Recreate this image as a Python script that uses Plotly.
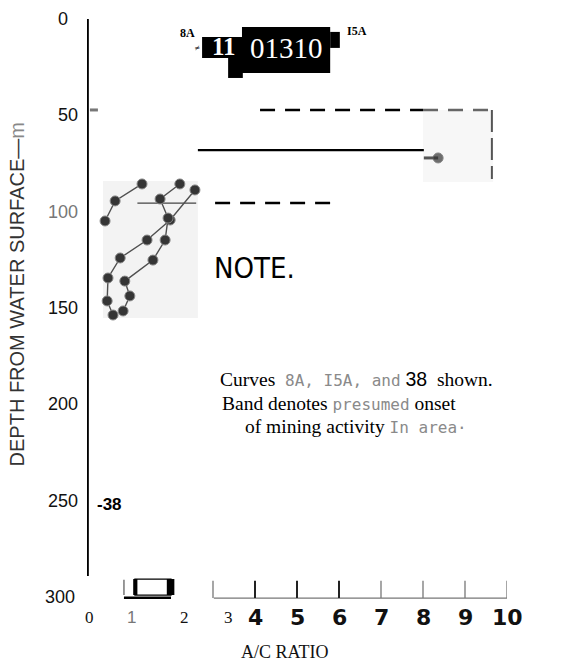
import plotly.graph_objects as go

# ---- depth profile data (A/C ratio vs depth in metres) ----
curve_8a_x = [1.31, 0.67, 0.43]
curve_8a_y = [85.6, 94.4, 104.8]
curve_15a_x = [2.57, 1.98, 1.43, 0.79, 0.50, 0.48, 0.62]
curve_15a_y = [88.7, 104.3, 114.7, 124.0, 134.4, 146.3, 153.6]
curve_38_x = [2.21, 1.74, 1.93, 1.86, 1.57, 0.90, 1.02, 0.86]
curve_38_y = [85.6, 93.4, 103.3, 114.7, 125.1, 136.0, 143.7, 151.5]

# onset band boundaries (depth) and their extent in A/C ratio
band_top_depth = 47.2
band_mid_depth = 68.0
band_low_depth = 95.5
band_top_x = [4.12, 8.0]
band_top_x_faint = [8.0, 9.64]
band_mid_x = [2.64, 8.02]
band_low_x = [3.05, 5.83]
band_low_inner_x = [1.2, 2.6]
band_side_y = [47.2, 83.0]
band_side_x = 9.64

# the isolated reading at the right of the band
point_x = [8.02, 8.36]
point_y = [72.1, 72.1]

# axis labels
y_tick_vals = [0, 50, 100, 150, 200, 250, 300]
y_tick_text = ["0", "50", "100", "150", "200", "250", "300"]
x_small_vals = [0.05, 1.07, 2.31, 3.38]
x_small_text = ["0", "1", "2", "3"]
x_big_vals = [4, 5, 6, 7, 8, 9, 10]
x_big_text = ["4", "5", "6", "7", "8", "9", "10"]
scale_tick_vals = [3, 4, 5, 6, 7, 8, 9, 10]

X_RANGE = [0, 10]
Y_RANGE = [302, 0]


def px_x(v):
    """A/C ratio value -> paper fraction."""
    return (v - X_RANGE[0]) / (X_RANGE[1] - X_RANGE[0])


def px_y(v):
    """Depth value -> paper fraction (depth grows downwards)."""
    return (Y_RANGE[0] - v) / (Y_RANGE[0] - Y_RANGE[1])


fig = go.Figure()

# faint background patches behind the plotted profiles
fig.add_shape(type="rect", x0=0.38, x1=2.64, y0=84.1, y1=155.2,
              fillcolor="#f3f3f3", line=dict(width=0), layer="below")
fig.add_shape(type="rect", x0=8.0, x1=9.67, y0=47.2, y1=84.6,
              fillcolor="#f7f7f7", line=dict(width=0), layer="below")

# depth axis line
fig.add_trace(go.Scatter(x=[0.02, 0.02], y=[0, 289], mode="lines",
                         line=dict(color="black", width=2), hoverinfo="skip"))
fig.add_trace(go.Scatter(x=[0.07, 0.26], y=[47.2, 47.2], mode="lines",
                         line=dict(color="#777", width=3), hoverinfo="skip"))

# band lines
dash_long = "15px,10px"
fig.add_trace(go.Scatter(x=band_top_x, y=[band_top_depth] * 2, mode="lines",
                         line=dict(color="black", width=2.5, dash=dash_long), hoverinfo="skip"))
fig.add_trace(go.Scatter(x=band_top_x_faint, y=[band_top_depth] * 2, mode="lines",
                         line=dict(color="#666", width=2.5, dash=dash_long), hoverinfo="skip"))
fig.add_trace(go.Scatter(x=[band_side_x] * 2, y=band_side_y, mode="lines",
                         line=dict(color="#555", width=2, dash="22px,6px"), hoverinfo="skip"))
fig.add_trace(go.Scatter(x=band_mid_x, y=[band_mid_depth] * 2, mode="lines",
                         line=dict(color="black", width=2.2), hoverinfo="skip"))
fig.add_trace(go.Scatter(x=band_low_x, y=[band_low_depth] * 2, mode="lines",
                         line=dict(color="black", width=2.5, dash=dash_long), hoverinfo="skip"))
fig.add_trace(go.Scatter(x=band_low_inner_x, y=[band_low_depth] * 2, mode="lines",
                         line=dict(color="#444", width=1.3), hoverinfo="skip"))
fig.add_trace(go.Scatter(x=point_x, y=point_y, mode="lines+markers",
                         line=dict(color="#555", width=3),
                         marker=dict(color="#333", size=[0, 10]), hoverinfo="skip"))

# profile curves
for cx, cy in [(curve_8a_x, curve_8a_y), (curve_15a_x, curve_15a_y), (curve_38_x, curve_38_y)]:
    fig.add_trace(go.Scatter(x=cx, y=cy, mode="lines+markers",
                             line=dict(color="#505050", width=1.4),
                             marker=dict(color="#353535", size=10,
                                         line=dict(color="#888", width=1)),
                             hoverinfo="skip"))

# A/C ratio scale at the foot of the chart
fig.add_trace(go.Scatter(x=[3.02, 10.0], y=[300.5, 300.5], mode="lines",
                         line=dict(color="#777", width=1.3), hoverinfo="skip"))
for tv in scale_tick_vals:
    heavy = tv in (4, 5, 6)
    fig.add_trace(go.Scatter(x=[tv, tv], y=[291.5, 300.5], mode="lines",
                             line=dict(color="#222" if heavy else "#777",
                                       width=2 if heavy else 1.3),
                             hoverinfo="skip"))
fig.add_shape(type="rect", x0=1.14, x1=2.0, y0=290.6, y1=298.9,
              line=dict(color="black", width=1.2), fillcolor="white")
fig.add_shape(type="rect", x0=1.1, x1=1.2, y0=290.6, y1=298.9,
              line=dict(width=0), fillcolor="black")
fig.add_shape(type="rect", x0=1.9, x1=2.08, y0=290.6, y1=298.9,
              line=dict(width=0), fillcolor="black")
fig.add_trace(go.Scatter(x=[0.88, 0.88], y=[291.0, 298.9], mode="lines",
                         line=dict(color="#555", width=1.2), hoverinfo="skip"))
fig.add_trace(go.Scatter(x=[0.88, 2.0], y=[300.3, 300.3], mode="lines",
                         line=dict(color="black", width=2.5), hoverinfo="skip"))

# curve identifier block at the top
fig.add_shape(type="rect", x0=3.69, x1=5.79, y0=4.2, y1=28.0,
              fillcolor="black", line=dict(width=0))
fig.add_shape(type="rect", x0=2.74, x1=3.71, y0=9.3, y1=20.2,
              fillcolor="black", line=dict(width=0))
fig.add_shape(type="rect", x0=3.36, x1=3.71, y0=19.7, y1=30.6,
              fillcolor="black", line=dict(width=0))
fig.add_shape(type="rect", x0=5.79, x1=6.02, y0=6.7, y1=15.0,
              fillcolor="black", line=dict(width=0))

ann = []
serif = "Liberation Serif, Times New Roman, serif"
sans = "Liberation Sans, Arial, sans-serif"


def add_label(xv, yv, text, font, **kw):
    ann.append(dict(x=px_x(xv), y=px_y(yv), xref="paper", yref="paper",
                    text=text, font=font, showarrow=False,
                    xanchor=kw.pop("xanchor", "center"), yanchor="middle", **kw))


add_label(2.40, 7.3, "<b>8A</b>", dict(family=serif, size=12, color="black"))
add_label(2.62, 14.8, "≠", dict(family=serif, size=9, color="black"))
add_label(3.27, 14.2, "<b>11</b>", dict(family=serif, size=25, color="white"))
add_label(4.74, 15.2, "01310", dict(family=serif, size=29, color="white"))
add_label(6.42, 6.0, "<b>I5A</b>", dict(family=serif, size=12, color="black"))
add_label(0.2, 252, "<b>-38</b>", dict(family=sans, size=17, color="black"), xanchor="left")

# depth tick labels
for v, t in zip(y_tick_vals, y_tick_text):
    add_label(-0.17, v, t, dict(family=sans, size=18,
                                color="#777" if v == 100 else "#111"),
              xanchor="right", xshift=-10 if v == 0 else (-3 if v == 300 else 0))

# ratio tick labels
for v, t in zip(x_small_vals, x_small_text):
    add_label(v, 310.5, t, dict(family=sans if t == "1" else serif, size=17,
                                color="#777" if t == "1" else "#111"))
for v, t in zip(x_big_vals, x_big_text):
    add_label(v, 310.5, "<b>" + t + "</b>",
              dict(family="DejaVu Sans, sans-serif", size=22, color="#111"))

add_label(4.71, 328.5, "A/C RATIO", dict(family=serif, size=18, color="#111"))
add_label(-1.67, 143, "DEPTH FROM WATER SURFACE—<span style='color:#888'>m</span>",
          dict(family=sans, size=20, color="#333"), textangle=-90)

# note
add_label(2.98, 129, "NOTE.",
          dict(family="Liberation Sans Narrow, DejaVu Sans Condensed, sans-serif",
               size=29, color="black"), xanchor="left")
grey = "font-family:DejaVu Sans Mono, monospace;font-size:16px;color:#8a8a8a"
add_label(3.12, 186.8,
          "Curves  <span style='" + grey + "'>8A, I5A, and</span> "
          "<span style='font-family:Liberation Sans, Arial, sans-serif'>38</span>  shown.",
          dict(family=serif, size=19.5, color="black"), xanchor="left")
add_label(3.17, 199.3, "Band denotes <span style='" + grey + "'>presumed</span> onset",
          dict(family=serif, size=19.5, color="black"), xanchor="left")
add_label(3.71, 211.6, "of mining activity <span style='" + grey + "'>In area·</span>",
          dict(family=serif, size=19.5, color="black"), xanchor="left")

fig.update_layout(
    width=564, height=666,
    margin=dict(l=87, r=57, t=19, b=65),
    paper_bgcolor="white", plot_bgcolor="white",
    showlegend=False,
    xaxis=dict(range=X_RANGE, visible=False, fixedrange=True),
    yaxis=dict(range=Y_RANGE, visible=False, fixedrange=True),
    annotations=ann,
)

fig.write_html("out.html", config={"displayModeBar": False})
